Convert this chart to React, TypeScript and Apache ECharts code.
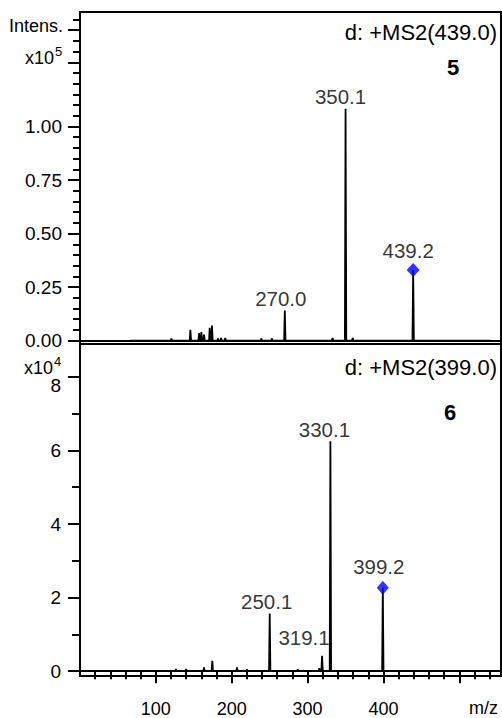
import React, { useEffect, useRef } from "react";
import * as echarts from "echarts";

// ---------- Data ----------
// Top spectrum: d: +MS2(439.0), intensity in x10^5
const topMz = [120.5, 145.5, 157, 160, 163.5, 171, 174, 182, 186, 191.5, 239, 253, 270.0, 333, 350.1, 359.5, 439.2];
const topInt = [0.01, 0.05, 0.035, 0.04, 0.028, 0.06, 0.07, 0.01, 0.012, 0.012, 0.01, 0.01, 0.14, 0.012, 1.083, 0.012, 0.33];
const topBaseline = [66, 541];
const topLabelled = ["270.0", "350.1", "439.2"];
const topPrecursor = [439.2, 0.33];

// Bottom spectrum: d: +MS2(399.0), intensity in x10^4
const botMz = [126.5, 140, 163.5, 174.4, 207, 220, 250.1, 287, 315.5, 319.1, 330.1, 399.2];
const botInt = [0.06, 0.06, 0.1, 0.28, 0.1, 0.05, 1.57, 0.05, 0.08, 0.42, 6.25, 2.27];
const botBaseline = [17, 479];
const botLabelled = ["250.1", "319.1", "330.1", "399.2"];
const botPrecursor = [399.2, 2.27];

// Axis ticks
const xMajorTicks = [100, 200, 300, 400, 500];
const xTickLabels = [100, 200, 300, 400];
const xMinorTicks = [20, 40, 60, 80, 120, 140, 160, 180, 220, 240, 260, 280, 320, 340, 360, 380, 420, 440, 460, 480, 520, 540];
const topYLabels = [0, 0.25, 0.5, 0.75, 1.0];
const topYLongTicks = [0, 0.25, 0.5, 0.75, 1.0, 1.3, 1.45];
const topYMinorTicks = Array.from({ length: 31 }, (_, i) => Math.round(i * 5) / 100);
const botYTicks = [0, 2, 4, 6, 8];
const botYLabels = [0, 2, 4, 6];
const botYTopLabel = "8";
const botYMinorTicks = [1, 3, 5, 7];

// ---------- Styles ----------
const FONT = "'Liberation Sans', Arial, Helvetica, sans-serif";
const labelOffsets: Record<string, number[]> = {
  "270.0": [-4, 0],
  "350.1": [-5, 0],
  "439.2": [-5, -7],
  "250.1": [-3, 1],
  "319.1": [-18, -6],
  "330.1": [-6, 1],
  "399.2": [-4, -9],
};

function sticks(mz: number[], inten: number[], range: number[]) {
  const pts: number[][] = [[range[0], 0]];
  const idx = mz.map((_, i) => i).sort((a, b) => mz[a] - mz[b]);
  for (const i of idx) {
    pts.push([mz[i] - 0.9, 0], [mz[i], inten[i]], [mz[i] + 0.9, 0]);
  }
  pts.push([range[1], 0]);
  return pts;
}

function labelData(labels: string[], mz: number[], inten: number[]) {
  return labels.map((l) => {
    const v = parseFloat(l);
    const i = mz.findIndex((m) => Math.abs(m - v) < 0.01);
    return {
      value: [mz[i], inten[i]],
      name: l,
      label: { offset: labelOffsets[l] || [0, 0] },
    };
  });
}

const axisLineStyle = { show: true, lineStyle: { color: "#000", width: 2 } };

export default function App() {
  const ref = useRef<HTMLDivElement>(null);
  useEffect(() => {
    if (!ref.current) return;
    const chart = echarts.init(ref.current, undefined, { renderer: "svg" });
    const X_MIN = 0;
    const X_MAX = 555;
    const baseX = { type: "value", min: X_MIN, max: X_MAX, splitLine: { show: false }, position: "bottom" };
    const labelStyle = { show: true, position: "top", distance: 2, formatter: (p: any) => p.name, fontSize: 20.5, color: "#000", fontFamily: FONT };

    const option: any = {
      animation: false,
      backgroundColor: "#fff",
      grid: [
        { left: 80, top: 12, width: 421, height: 332, show: true, borderColor: "#000", borderWidth: 2, backgroundColor: "transparent" },
        { left: 80, top: 344, width: 421, height: 333.5, show: true, borderColor: "#000", borderWidth: 2, backgroundColor: "transparent" },
      ],
      xAxis: [
        { ...baseX, gridIndex: 0, axisLine: axisLineStyle, axisTick: { show: false }, axisLabel: { show: false } },
        {
          ...baseX,
          gridIndex: 1,
          axisLine: axisLineStyle,
          axisTick: { show: true, customValues: xMajorTicks, length: 12, lineStyle: { color: "#000", width: 2 } },
          axisLabel: { show: true, customValues: xTickLabels, fontSize: 18, color: "#000", fontFamily: FONT, margin: 24 },
        },
        {
          ...baseX,
          gridIndex: 1,
          axisLine: { show: false },
          axisTick: { show: true, customValues: xMinorTicks, length: 8, lineStyle: { color: "#000", width: 2 } },
          axisLabel: { show: false },
        },
      ],
      yAxis: [
        {
          type: "value", gridIndex: 0, position: "left", min: -0.016, max: 1.535, splitLine: { show: false },
          axisLine: axisLineStyle,
          axisTick: { show: true, customValues: topYLongTicks, length: 12, lineStyle: { color: "#000", width: 2 } },
          axisLabel: { show: true, customValues: topYLabels, formatter: (v: number) => v.toFixed(2), fontSize: 19, color: "#000", fontFamily: FONT, margin: 18 },
        },
        {
          type: "value", gridIndex: 0, position: "left", min: -0.016, max: 1.535, splitLine: { show: false },
          axisLine: { show: false },
          axisTick: { show: true, customValues: topYMinorTicks, length: 7, lineStyle: { color: "#000", width: 2 } },
          axisLabel: { show: false },
        },
        {
          type: "value", gridIndex: 1, position: "left", min: -0.13, max: 8.893, splitLine: { show: false },
          axisLine: axisLineStyle,
          axisTick: { show: true, customValues: botYTicks, length: 12, lineStyle: { color: "#000", width: 2 } },
          axisLabel: { show: true, customValues: botYLabels, fontSize: 19, color: "#000", fontFamily: FONT, margin: 19 },
        },
        {
          type: "value", gridIndex: 1, position: "left", min: -0.13, max: 8.893, splitLine: { show: false },
          axisLine: { show: false },
          axisTick: { show: true, customValues: botYMinorTicks, length: 8, lineStyle: { color: "#000", width: 2 } },
          axisLabel: { show: false },
        },
      ],
      series: [
        {
          type: "line", xAxisIndex: 0, yAxisIndex: 0, data: sticks(topMz, topInt, topBaseline),
          showSymbol: false, symbol: "none", lineStyle: { color: "#000", width: 1.8 }, silent: true,
        },
        {
          type: "scatter", xAxisIndex: 0, yAxisIndex: 0, data: [topPrecursor], symbol: "diamond", symbolSize: [13, 14],
          itemStyle: { color: "#0000ff" }, silent: true, z: 5,
        },
        {
          type: "scatter", xAxisIndex: 0, yAxisIndex: 0, data: labelData(topLabelled, topMz, topInt), symbolSize: 0,
          label: labelStyle, silent: true, z: 6,
        },
        {
          type: "line", xAxisIndex: 1, yAxisIndex: 2, data: sticks(botMz, botInt, botBaseline),
          showSymbol: false, symbol: "none", lineStyle: { color: "#000", width: 1.8 }, silent: true,
        },
        {
          type: "scatter", xAxisIndex: 1, yAxisIndex: 2, data: [botPrecursor], symbol: "diamond", symbolSize: [12, 14],
          itemStyle: { color: "#0000ff" }, silent: true, z: 5,
        },
        {
          type: "scatter", xAxisIndex: 1, yAxisIndex: 2, data: labelData(botLabelled, botMz, botInt), symbolSize: 0,
          label: labelStyle, silent: true, z: 6,
        },
      ],
      graphic: [
        { type: "text", x: 63, y: 26, style: { text: "Intens.", fontSize: 18, fill: "#000", fontFamily: FONT, align: "right", verticalAlign: "middle" } },
        { type: "text", x: 54, y: 58, style: { text: "x10", fontSize: 18, fill: "#000", fontFamily: FONT, align: "right", verticalAlign: "middle" } },
        { type: "text", x: 55, y: 51, style: { text: "5", fontSize: 13, fill: "#000", fontFamily: FONT, align: "left", verticalAlign: "middle" } },
        { type: "text", x: 53, y: 368, style: { text: "x10", fontSize: 18, fill: "#000", fontFamily: FONT, align: "right", verticalAlign: "middle" } },
        { type: "text", x: 54, y: 361, style: { text: "4", fontSize: 13, fill: "#000", fontFamily: FONT, align: "left", verticalAlign: "middle" } },
        { type: "text", x: 61, y: 385, style: { text: botYTopLabel, fontSize: 19, fill: "#000", fontFamily: FONT, align: "right", verticalAlign: "middle" } },
        { type: "text", x: 497, y: 32, style: { text: "d: +MS2(439.0)", fontSize: 22, fill: "#000", fontFamily: FONT, align: "right", verticalAlign: "middle" } },
        { type: "text", x: 453, y: 67.5, style: { text: "5", fontSize: 22, fontWeight: "bold", fill: "#000", fontFamily: FONT, align: "center", verticalAlign: "middle" } },
        { type: "text", x: 497, y: 367, style: { text: "d: +MS2(399.0)", fontSize: 22, fill: "#000", fontFamily: FONT, align: "right", verticalAlign: "middle" } },
        { type: "text", x: 450, y: 412.5, style: { text: "6", fontSize: 22, fontWeight: "bold", fill: "#000", fontFamily: FONT, align: "center", verticalAlign: "middle" } },
        { type: "text", x: 498, y: 708, style: { text: "m/z", fontSize: 18, fill: "#000", fontFamily: FONT, align: "right", verticalAlign: "middle" } },
      ],
    };
    chart.setOption(option);
    return () => chart.dispose();
  }, []);
  return <div ref={ref} style={{ position: "absolute", left: 0, top: 0, width: 502, height: 718, background: "#fff" }} />;
}
